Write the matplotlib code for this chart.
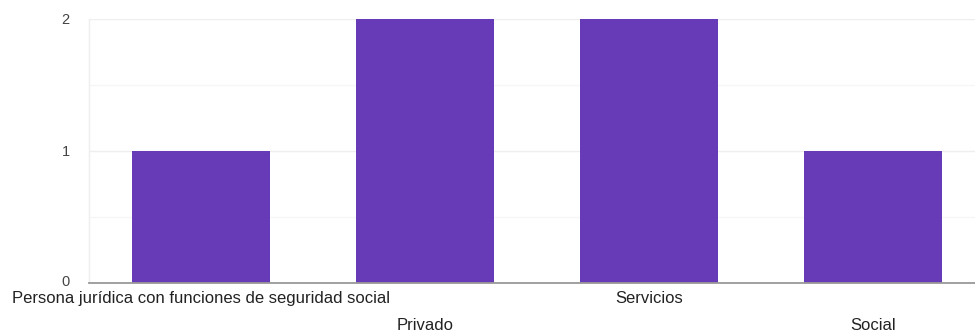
import matplotlib
matplotlib.use("Agg")
import matplotlib.pyplot as plt
import matplotlib.transforms as mtransforms

categories = ["Persona jurídica con funciones de seguridad social", "Privado", "Servicios", "Social"]
counts = [1, 2, 2, 1]
y_ticks = [0, 1, 2]

plt.rcParams["font.family"] = ["Liberation Sans", "DejaVu Sans"]

fig = plt.figure(figsize=(9.75, 3.35), dpi=100)
W, H = 975, 335
ax = fig.add_axes([89 / W, 1 - 283 / H, 896 / W, 264 / H])

x = list(range(len(categories)))
ax.bar(x, counts, width=0.616, color="#673AB7", zorder=3)

ax.set_xlim(-0.5, len(categories) - 0.5)
ax.set_ylim(0, 2)
ax.set_yticks(y_ticks)
ax.set_yticks([0.5, 1.5], minor=True)
ax.yaxis.grid(True, which="major", color="#eeeeee", linewidth=1, zorder=0)
ax.yaxis.grid(True, which="minor", color="#f6f6f6", linewidth=1, zorder=0)

for side in ["top", "right"]:
    ax.spines[side].set_visible(False)
ax.spines["left"].set_color("#eeeeee")
ax.spines["left"].set_linewidth(1)
ax.spines["bottom"].set_color("#999999")
ax.spines["bottom"].set_linewidth(1.3)
ax.spines["bottom"].set_zorder(4)

ax.tick_params(axis="y", which="both", length=0, pad=14, labelsize=10.5, labelcolor="#444444")
# nudge the "0" label up a little so it clears the category text below
lift = mtransforms.ScaledTranslation(0, 2 / 72, fig.dpi_scale_trans)
ylabels = ax.get_yticklabels()
ylabels[0].set_transform(ylabels[0].get_transform() + lift)

ax.set_xticks(x)
ax.set_xticklabels(categories)
ax.tick_params(axis="x", length=0, labelsize=12, labelcolor="#222222")
for i, t in enumerate(ax.xaxis.get_major_ticks()):
    t.set_pad(6 if i % 2 == 0 else 25)

fig.savefig("out.png", dpi=100, facecolor="white")
